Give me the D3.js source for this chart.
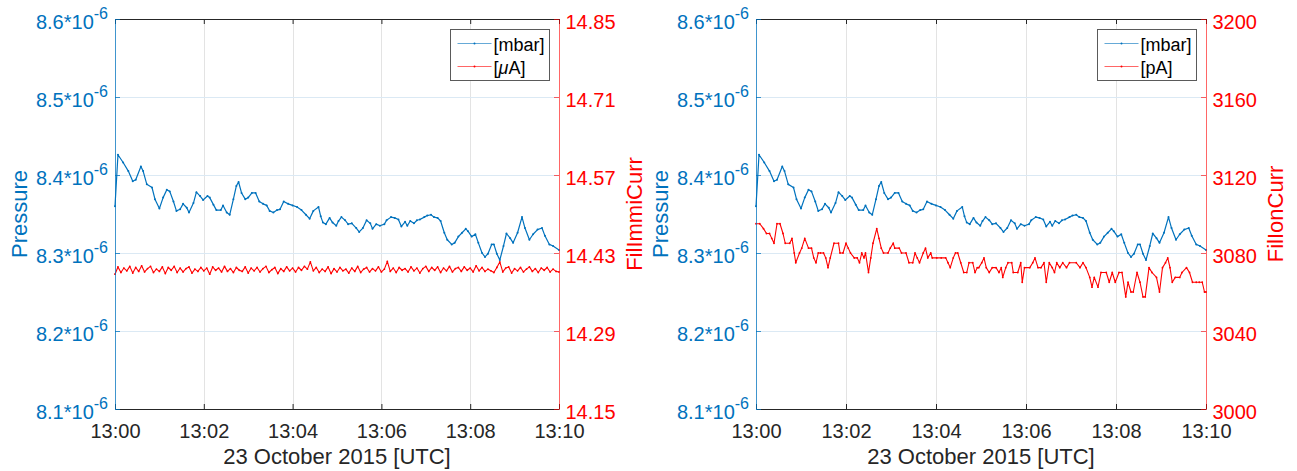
<!DOCTYPE html>
<html><head><meta charset="utf-8">
<script src="https://cdn.jsdelivr.net/npm/d3@7"></script>
<style>
body{margin:0;background:#fff;}
svg text{font-family:"Liberation Sans",Arial,Helvetica,sans-serif;}
</style>
</head><body>
<svg id="chart" width="1297" height="471"></svg>
<script>
// ---------- DATA ----------
// time in seconds after 13:00:00 UTC, 23 October 2015
const pressureTimes = [0,4,11,18,24,28,35,38,43,50,
54,60,65,70,74,79,83,88,92,97,
100,106,110,115,119,125,128,133,137,143,
146,151,155,160,164,167,171,176,180,185,
190,195,200,205,209,214,219,223,228,234,
240,246,252,258,263,268,275,278,281,285,
290,294,299,302,306,311,315,320,326,330,
335,340,345,348,353,358,364,367,373,378,
383,387,392,395,399,404,408,412,418,422,
427,431,436,440,445,449,455,459,464,469,
474,477,482,487,491,496,500,504,509,512,
516,520,525,529,534,538,544,550,554,560,
565,571,577,581,587,592,600];
// pressure in units of 1e-6 mbar
const pressureValues = [8.360,8.426,8.416,8.405,8.392,8.394,8.411,8.405,8.388,8.384,
8.369,8.357,8.371,8.381,8.379,8.366,8.354,8.356,8.363,8.358,
8.352,8.364,8.378,8.373,8.368,8.373,8.371,8.362,8.355,8.355,
8.361,8.352,8.349,8.369,8.386,8.391,8.377,8.369,8.371,8.377,
8.377,8.366,8.363,8.361,8.354,8.352,8.355,8.356,8.366,8.363,
8.361,8.359,8.355,8.349,8.344,8.354,8.359,8.347,8.339,8.337,
8.345,8.339,8.335,8.341,8.346,8.342,8.337,8.338,8.332,8.327,
8.332,8.342,8.338,8.331,8.337,8.335,8.337,8.342,8.346,8.345,
8.343,8.334,8.340,8.335,8.341,8.338,8.342,8.343,8.346,8.348,
8.349,8.346,8.345,8.341,8.326,8.317,8.311,8.313,8.321,8.326,
8.331,8.328,8.321,8.324,8.313,8.300,8.295,8.299,8.311,8.311,
8.299,8.291,8.309,8.325,8.319,8.313,8.326,8.346,8.332,8.317,
8.324,8.330,8.332,8.322,8.311,8.309,8.304];

// FilImmiCurr [µA]
const emiTimes = [0,4,8,12,16,20,24,28,32,36,
40,44,48,52,56,60,64,68,72,76,
80,84,88,92,96,100,104,108,112,116,
120,124,128,132,136,140,144,148,152,156,
160,164,168,172,176,180,184,188,192,196,
200,204,208,212,216,220,224,228,232,236,
240,244,248,252,256,260,264,268,272,276,
280,284,288,292,296,300,304,308,312,316,
320,324,328,332,336,340,344,348,352,356,
360,364,368,372,376,380,384,388,392,396,
400,404,408,412,416,420,424,428,432,436,
440,444,448,452,456,460,464,468,472,476,
480,484,488,492,496,500,504,508,512,516,
520,524,528,532,536,540,544,548,552,556,
560,564,568,572,576,580,584,588,592,596,
600];
const emiValues = [14.392,14.405,14.395,14.403,14.398,14.406,14.394,14.404,14.397,14.407,
14.396,14.402,14.406,14.395,14.401,14.397,14.405,14.393,14.404,14.399,
14.406,14.395,14.403,14.396,14.402,14.405,14.394,14.401,14.397,14.404,
14.398,14.403,14.392,14.405,14.399,14.403,14.396,14.406,14.397,14.402,
14.395,14.404,14.399,14.397,14.405,14.394,14.403,14.398,14.404,14.396,
14.402,14.406,14.395,14.400,14.404,14.393,14.402,14.397,14.405,14.398,
14.403,14.396,14.404,14.399,14.406,14.401,14.414,14.398,14.404,14.395,
14.401,14.397,14.405,14.393,14.402,14.396,14.404,14.398,14.401,14.394,
14.403,14.397,14.406,14.395,14.401,14.404,14.396,14.402,14.398,14.405,
14.396,14.401,14.415,14.397,14.403,14.395,14.404,14.399,14.402,14.396,
14.405,14.398,14.403,14.394,14.402,14.406,14.397,14.404,14.399,14.405,
14.395,14.403,14.398,14.406,14.396,14.402,14.404,14.397,14.405,14.399,
14.403,14.396,14.407,14.398,14.404,14.397,14.401,14.398,14.395,14.404,
14.414,14.396,14.403,14.405,14.394,14.402,14.398,14.404,14.396,14.401,
14.405,14.397,14.402,14.395,14.403,14.399,14.404,14.396,14.401,14.397,
14.396];

// FilIonCurr [pA]
const ionTimes = [0,5,10,14,18,21,24,28,32,36,
39,45,48,51,53,58,61,65,70,74,
77,80,83,86,90,93,96,99,104,110,
112,116,120,123,126,131,135,138,141,144,
146,150,153,156,161,164,167,170,176,179,
183,185,191,194,200,204,209,212,215,218,
223,226,229,233,235,241,247,253,256,259,
263,266,269,273,277,281,284,289,292,295,
297,301,304,307,311,315,320,324,327,329,
333,336,341,343,349,353,355,358,365,369,
372,376,380,384,387,391,395,398,401,405,
409,414,418,427,432,436,440,445,448,451,
456,460,467,471,475,479,484,488,493,496,
500,503,508,512,516,519,524,528,534,538,
542,546,549,552,555,559,565,568,574,578,
582,587,591,595,598,600];
const ionValues = [3095,3095,3092.5,3090,3090,3087.5,3085,3095,3095,3090,
3085,3085,3087.5,3080,3075,3080,3082.5,3087.5,3082.5,3082.5,
3077.5,3075,3080,3080,3080,3077.5,3072.5,3077.5,3085,3085,
3080,3080,3085,3082.5,3080,3077.5,3077.5,3075,3080,3077.5,
3080,3070,3077.5,3085,3092.5,3087.5,3082.5,3080,3080,3082.5,
3085,3082.5,3082.5,3080,3080,3075,3075,3080,3077.5,3075,
3080,3082.5,3077.5,3080,3077.5,3077.5,3077.5,3077.5,3075,3072.5,
3077.5,3080,3080,3075,3070,3070,3075,3075,3070,3072.5,
3072.5,3075,3077.5,3072.5,3070,3072.5,3072.5,3070,3072.5,3067.5,
3072.5,3075,3075,3070,3070,3075,3065,3072.5,3072.5,3075,
3077.5,3072.5,3072.5,3075,3065,3075,3072.5,3070,3075,3072.5,
3075,3072.5,3075,3075,3072.5,3075,3072.5,3067.5,3062.5,3067.5,
3062.5,3070,3070,3065,3070,3065,3070,3070,3057.5,3065,
3060,3060,3070,3065,3057.5,3057.5,3072.5,3070,3067.5,3060,
3072.5,3075,3077.5,3072.5,3065,3067.5,3067.5,3070,3072.5,3070,
3065,3065,3065,3065,3060,3060];

const pressureTicks = [8.1,8.2,8.3,8.4,8.5,8.6];
const pressureTickLabels = ["8.1*10","8.2*10","8.3*10","8.4*10","8.5*10","8.6*10"];
const emiTicks = [14.15,14.29,14.43,14.57,14.71,14.85];
const ionTicks = [3000,3040,3080,3120,3160,3200];
const timeTickMinutes = [0,2,4,6,8,10];
const timeTickLabels = ["13:00","13:02","13:04","13:06","13:08","13:10"];
const xTitle = "23 October 2015 [UTC]";

// ---------- DRAWING ----------
const svg = d3.select("#chart");
const T0 = Date.UTC(2015,9,23,13,0,0);
const toDate = s => new Date(T0 + s*1000);
const TOP = 19, BOTTOM = 409;
const BLUE = "#0072BD", RED = "#FF0000", DARK = "#262626";
const FONT = '"Liberation Sans",Arial,Helvetica,sans-serif';

function drawPanel(cfg){
  const x = d3.scaleUtc().domain([toDate(0), toDate(600)]).range([cfg.left, cfg.right]);
  const yL = d3.scaleLinear().domain([pressureTicks[0], pressureTicks[pressureTicks.length-1]]).range([BOTTOM, TOP]);
  const yR = d3.scaleLinear().domain([cfg.rTicks[0], cfg.rTicks[cfg.rTicks.length-1]]).range([BOTTOM, TOP]);
  const tickDates = timeTickMinutes.map(m => toDate(m*60));
  const g = svg.append("g");

  // grid
  g.append("g").selectAll("line").data(tickDates.slice(1,-1)).join("line")
    .attr("x1", d => Math.round(x(d))+0.5).attr("x2", d => Math.round(x(d))+0.5)
    .attr("y1", TOP).attr("y2", BOTTOM)
    .attr("stroke", "#e3e3e3").attr("stroke-width", 1);
  g.append("g").selectAll("line").data(pressureTicks.slice(1,-1)).join("line")
    .attr("x1", cfg.left).attr("x2", cfg.right)
    .attr("y1", d => Math.round(yL(d))+0.5).attr("y2", d => Math.round(yL(d))+0.5)
    .attr("stroke", "#dbe9f4").attr("stroke-width", 1);

  // data lines
  const lineP = d3.line().x((d,i) => x(toDate(pressureTimes[i]))).y(d => yL(d));
  const lineR = d3.line().x((d,i) => x(toDate(cfg.rTimes[i]))).y(d => yR(d));
  g.append("path").datum(cfg.rValues).attr("d", lineR)
    .attr("fill","none").attr("stroke", RED).attr("stroke-width", 1.1).attr("stroke-linejoin","round");
  g.append("g").selectAll("circle").data(cfg.rValues).join("circle")
    .attr("cx",(d,i)=>x(toDate(cfg.rTimes[i]))).attr("cy",d=>yR(d)).attr("r",0.9).attr("fill",RED);
  g.append("path").datum(pressureValues).attr("d", lineP)
    .attr("fill","none").attr("stroke", BLUE).attr("stroke-width", 1.2).attr("stroke-linejoin","round");
  g.append("g").selectAll("circle").data(pressureValues).join("circle")
    .attr("cx",(d,i)=>x(toDate(pressureTimes[i]))).attr("cy",d=>yL(d)).attr("r",1).attr("fill",BLUE);

  // bottom axis
  const ax = g.append("g").attr("transform", `translate(0,${BOTTOM})`)
    .call(d3.axisBottom(x).tickValues(tickDates).tickFormat((d,i) => timeTickLabels[i])
      .tickSize(-5).tickSizeOuter(0).tickPadding(15));
  ax.attr("font-family", FONT).attr("font-size", 20);
  ax.select(".domain").attr("stroke", DARK);
  ax.selectAll(".tick line").attr("stroke", DARK);
  ax.selectAll(".tick text").attr("fill", DARK);

  // top axis (box)
  const at = g.append("g").attr("transform", `translate(0,${TOP})`)
    .call(d3.axisTop(x).tickValues(tickDates).tickFormat("").tickSize(-5).tickSizeOuter(0));
  at.select(".domain").attr("stroke", DARK);
  at.selectAll(".tick line").attr("stroke", DARK);

  // left axis (pressure)
  const al = g.append("g").attr("transform", `translate(${cfg.left},0)`)
    .call(d3.axisLeft(yL).tickValues(pressureTicks).tickFormat((d,i) => pressureTickLabels[i])
      .tickSize(-5).tickSizeOuter(0).tickPadding(7));
  al.attr("font-family", FONT).attr("font-size", 20);
  al.select(".domain").attr("stroke", BLUE).attr("stroke-opacity", 0.75);
  al.selectAll(".tick line").attr("stroke", BLUE).attr("stroke-opacity", 0.75);
  al.selectAll(".tick text").attr("fill", BLUE).attr("dy", "0.47em")
    .append("tspan").attr("font-size", 16).attr("dy", -9.5).text("-6");

  // right axis
  const ar = g.append("g").attr("transform", `translate(${cfg.right},0)`)
    .call(d3.axisRight(yR).tickValues(cfg.rTicks).tickFormat(cfg.rFormat)
      .tickSize(-5).tickSizeOuter(0).tickPadding(6.5));
  ar.attr("font-family", FONT).attr("font-size", 20);
  ar.select(".domain").attr("stroke", RED).attr("stroke-opacity", 0.6);
  ar.selectAll(".tick line").attr("stroke", RED).attr("stroke-opacity", 0.6);
  ar.selectAll(".tick text").attr("fill", RED).attr("dy", "0.46em");

  // axis titles
  const midY = (TOP + BOTTOM) / 2;
  g.append("text").attr("transform", `translate(${cfg.left - 88},${midY}) rotate(-90)`)
    .attr("text-anchor","middle").attr("font-size", 22).attr("fill", BLUE).text("Pressure");
  g.append("text").attr("transform", `translate(${cfg.right + cfg.rTitleOffset},${midY}) rotate(-90)`)
    .attr("text-anchor","middle").attr("font-size", 22).attr("fill", RED).text(cfg.rTitle);
  g.append("text").attr("x", (cfg.left + cfg.right)/2).attr("y", 463.5)
    .attr("text-anchor","middle").attr("font-size", 22).attr("fill", DARK).text(xTitle);

  // legend
  const bw = 99, bx = Math.round(cfg.right - 10 - bw) + 0.5, by = 29.5;
  const lg = g.append("g");
  lg.append("rect").attr("x", bx).attr("y", by).attr("width", bw).attr("height", 51)
    .attr("fill", "#fff").attr("stroke", "#5a5a5a").attr("stroke-width", 1);
  const entries = [{c: BLUE, label: ["[mbar]"]}, {c: RED, label: cfg.rUnit}];
  entries.forEach((e, i) => {
    const yy = by + 14 + i * 23;
    lg.append("line").attr("x1", bx + 7).attr("x2", bx + 41).attr("y1", yy).attr("y2", yy)
      .attr("stroke", e.c).attr("stroke-opacity", 0.6).attr("stroke-width", 1.2);
    lg.append("circle").attr("cx", bx + 24).attr("cy", yy).attr("r", 1).attr("fill", e.c);
    const t = lg.append("text").attr("x", bx + 43).attr("y", yy + 7).attr("font-size", 18).attr("fill", "#000");
    e.label.forEach(p => {
      const ts = t.append("tspan").text(p.replace(/^_/, ""));
      if (p.startsWith("_")) ts.attr("font-style", "italic");
    });
  });
}

drawPanel({left: 115, right: 559, rTimes: emiTimes, rValues: emiValues, rTicks: emiTicks,
  rFormat: d => d.toFixed(2), rTitle: "FilImmiCurr", rTitleOffset: 82.5, rUnit: ["[", "_μ", "A]"]});
drawPanel({left: 756, right: 1206, rTimes: ionTimes, rValues: ionValues, rTicks: ionTicks,
  rFormat: d => d.toFixed(0), rTitle: "FilIonCurr", rTitleOffset: 77, rUnit: ["[pA]"]});
</script>
</body></html>
